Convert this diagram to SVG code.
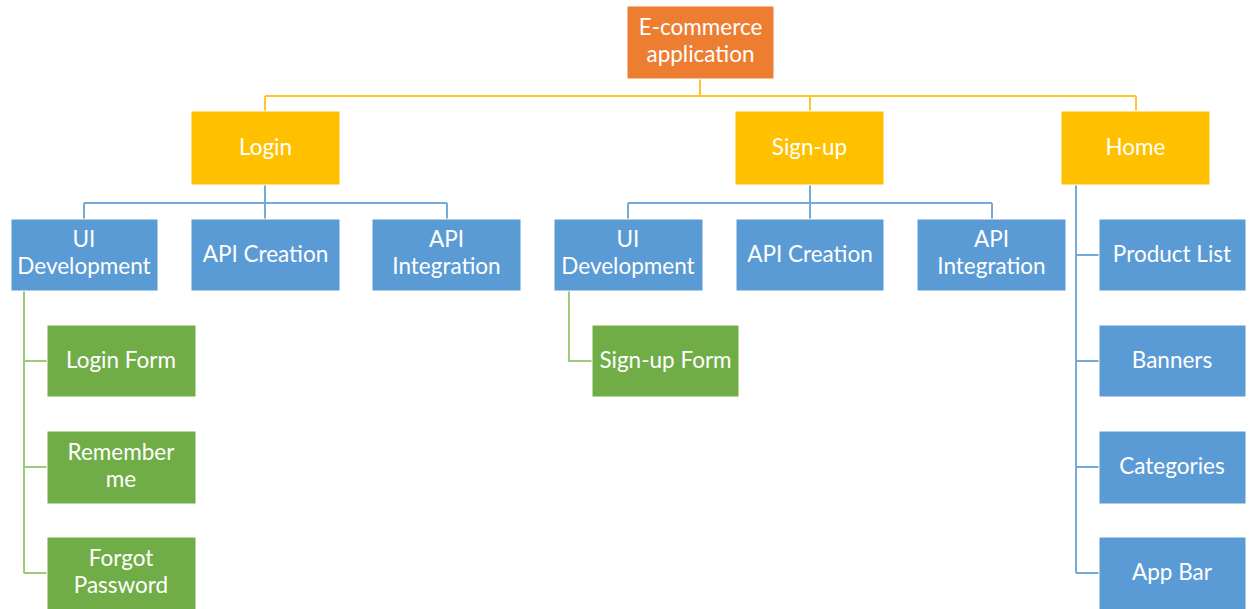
<svg xmlns="http://www.w3.org/2000/svg" width="1250" height="609" viewBox="0 0 1250 609">
<style>
rect{stroke:#ffffff;stroke-width:1}
.o{fill:#ED7D31}.y{fill:#FFC000}.b{fill:#5B9BD5}.g{fill:#70AD47}
text{font-family:Lato,"Open Sans","Liberation Sans",sans-serif;font-size:22.5px;fill:#ffffff;text-anchor:middle}
.cy{stroke:#FFC62A;stroke-width:2;fill:none}
.cb{stroke:#74A9DC;stroke-width:2;fill:none}
.cg{stroke:#9CCB7E;stroke-width:2;fill:none}
</style>
<rect width="1250" height="609" fill="#ffffff" stroke="none"/>
<g id="connectors">
<path class="cy" d="M700 79V96M265 96H1136M265 96V111M810 96V111M1136 96V111"/>
<path class="cb" d="M265 185V203M84 203H447M84 203V219M265 203V219M447 203V219"/>
<path class="cb" d="M810 185V203M628 203H992M628 203V219M810 203V219M992 203V219"/>
<path class="cb" d="M1076 185V573M1076 255H1099M1076 361H1099M1076 467H1099M1076 573H1099"/>
<path class="cg" d="M24 291V573M24 361H47M24 467H47M24 573H47"/>
<path class="cg" d="M569 291V361H592"/>
</g>
<g id="root"><rect class="o" x="627" y="6" width="147" height="73"/><text x="700.5" y="35">E-commerce</text><text x="700.5" y="62">application</text></g>
<g id="login"><rect class="y" x="191" y="111" width="149" height="74"/><text x="265.5" y="155">Login</text></g>
<g id="signup"><rect class="y" x="735" y="111" width="149" height="74"/><text x="809.5" y="155">Sign-up</text></g>
<g id="home"><rect class="y" x="1061" y="111" width="149" height="74"/><text x="1135.5" y="155">Home</text></g>
<g id="login-ui"><rect class="b" x="11" y="219" width="147" height="72"/><text x="84" y="247">UI</text><text x="84" y="274">Development</text></g>
<g id="login-api-creation"><rect class="b" x="191" y="219" width="149" height="72"/><text x="265.5" y="262">API Creation</text></g>
<g id="login-api-integration"><rect class="b" x="372" y="219" width="149" height="72"/><text x="446.5" y="247">API</text><text x="446.5" y="274">Integration</text></g>
<g id="signup-ui"><rect class="b" x="554" y="219" width="149" height="72"/><text x="628" y="247">UI</text><text x="628" y="274">Development</text></g>
<g id="signup-api-creation"><rect class="b" x="736" y="219" width="148" height="72"/><text x="810" y="262">API Creation</text></g>
<g id="signup-api-integration"><rect class="b" x="917" y="219" width="149" height="72"/><text x="991.5" y="247">API</text><text x="991.5" y="274">Integration</text></g>
<g id="login-form"><rect class="g" x="47" y="325" width="149" height="72"/><text x="121" y="368">Login Form</text></g>
<g id="remember-me"><rect class="g" x="47" y="431" width="149" height="73"/><text x="121" y="460">Remember</text><text x="121" y="487">me</text></g>
<g id="forgot-password"><rect class="g" x="47" y="537" width="149" height="73"/><text x="121" y="566">Forgot</text><text x="121" y="593">Password</text></g>
<g id="signup-form"><rect class="g" x="592" y="325" width="147" height="72"/><text x="665.5" y="368">Sign-up Form</text></g>
<g id="product-list"><rect class="b" x="1099" y="219" width="147" height="72"/><text x="1172" y="262">Product List</text></g>
<g id="banners"><rect class="b" x="1099" y="325" width="147" height="72"/><text x="1172" y="368">Banners</text></g>
<g id="categories"><rect class="b" x="1099" y="431" width="147" height="73"/><text x="1172" y="474">Categories</text></g>
<g id="app-bar"><rect class="b" x="1099" y="537" width="147" height="73"/><text x="1172" y="580">App Bar</text></g>
</svg>
